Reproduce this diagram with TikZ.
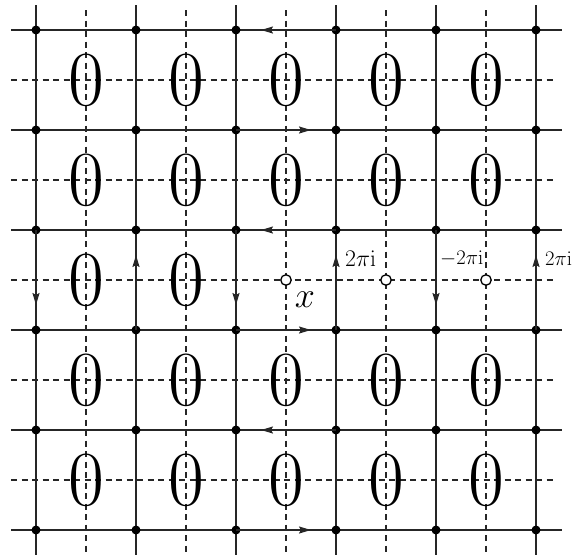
\documentclass[tikz,border=0pt]{standalone}
\usetikzlibrary{arrows.meta}
\begin{document}
\begin{tikzpicture}[x=1pt,y=-1pt,
  solidline/.style={draw=black!85,line width=1.7pt},
  dashline/.style={draw=black!85,line width=1.1pt,dash pattern=on 6pt off 4.5pt},
  dot/.style={circle,fill=black,inner sep=0pt,minimum size=9pt},
  hole/.style={circle,draw=black,fill=white,line width=1.3pt,inner sep=0pt,minimum size=10.5pt},
  zero/.style={inner sep=0pt,font=\fontsize{78}{78}\selectfont},
  arr/.style={draw=black!85,line width=1.7pt,-{Stealth[length=12pt,width=7pt,inset=2pt]},shorten >=25pt},
  lab/.style={font=\fontsize{20}{20}\selectfont,anchor=west,inner sep=0pt}
]
\useasboundingbox (0,0) rectangle (573,558);
% dashed lines
\foreach \i in {0,...,4}{
  \coordinate (dt\i) at (86+100*\i,10);
  \coordinate (db\i) at (86+100*\i,555);
  \coordinate (dl\i) at (11,80+100*\i);
  \coordinate (dr\i) at (557,80+100*\i);
  \draw[dashline] (dt\i) -- (db\i);
  \draw[dashline] (dl\i) -- (dr\i);
}
% solid lines
\foreach \i in {0,...,5}{
  \coordinate (vt\i) at (36+100*\i,5);
  \coordinate (vb\i) at (36+100*\i,555);
  \coordinate (hl\i) at (11,30+100*\i);
  \coordinate (hr\i) at (562,30+100*\i);
  \draw[solidline] (vt\i) -- (vb\i);
  \draw[solidline] (hl\i) -- (hr\i);
}
% intersection dots
\foreach \i in {0,...,5}{
  \foreach \j in {0,...,5}{
    \node[dot] (p\i\j) at (36+100*\i,30+100*\j) {};
  }
}
% horizontal arrows
\foreach \j in {0,2,4}{
  \draw[arr] (p3\j.center) -- (p2\j.center);
}
\foreach \j in {1,3,5}{
  \draw[arr] (p2\j.center) -- (p3\j.center);
}
% vertical arrows
\foreach \i in {0,2,4}{
  \draw[arr] (p\i2.center) -- (p\i3.center);
}
\foreach \i in {1,3,5}{
  \draw[arr] (p\i3.center) -- (p\i2.center);
}
% zeros and holes
\foreach \i in {0,...,4}{
  \foreach \j in {0,...,4}{
    \ifnum\j=2
      \ifnum\i>1
        \node[hole] (h\i) at (86+100*\i,80+100*\j) {};
      \else
        \node[zero] (z\i\j) at (86+100*\i,80+100*\j) {0};
      \fi
    \else
      \node[zero] (z\i\j) at (86+100*\i,80+100*\j) {0};
    \fi
  }
}
% labels
\node[lab] (l1) at (345,259) {\scalebox{1.15}{$2\pi\mathrm{i}$}};
\node[lab] (l2) at (440,259) {$-2\pi\mathrm{i}$};
\node[lab] (l3) at (545,259) {$2\pi\mathrm{i}$};
\node[inner sep=0pt,font=\fontsize{24.88}{24.88}\selectfont] (xl) at (305,300) {\scalebox{1.45}{$x$}};
\end{tikzpicture}
\end{document}
